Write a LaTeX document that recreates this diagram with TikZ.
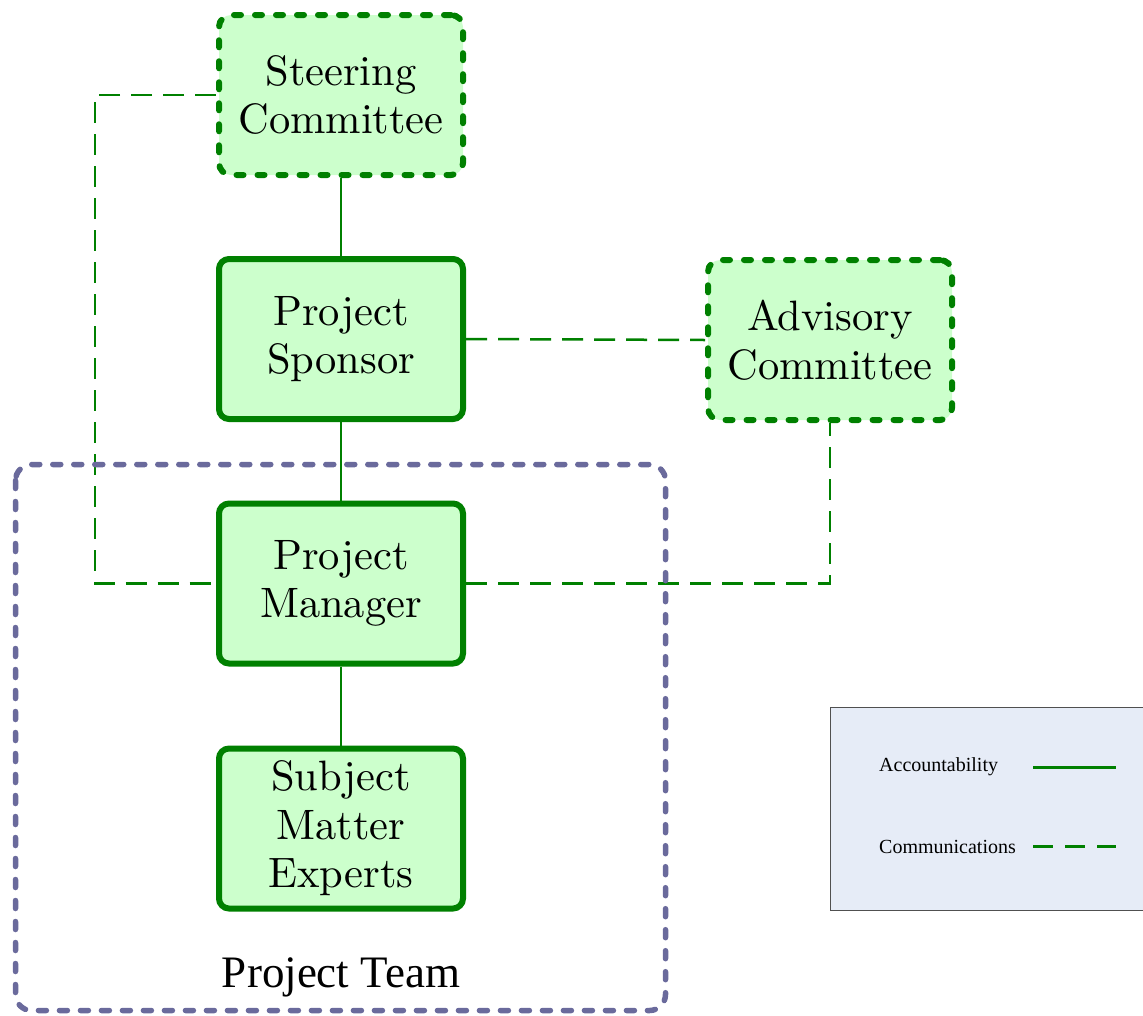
\documentclass[tikz,border=0pt]{standalone}
\usepackage{fontspec}
\newfontfamily\legfont{Liberation Serif}
\newfontfamily\boxfont{lmroman10-regular}[Extension=.otf]
\usetikzlibrary{backgrounds}
\definecolor{grn}{HTML}{008000}
\definecolor{lgrn}{HTML}{CCFFCC}
\definecolor{teamc}{HTML}{6A6A9C}
\definecolor{legfill}{HTML}{E6ECF7}
\definecolor{legdraw}{HTML}{505050}
\begin{document}
\begin{tikzpicture}[x=1pt,y=-1pt,
  box/.style={draw=grn, fill=lgrn, line width=6pt, rounded corners=10pt,
    minimum width=244pt, minimum height=160pt, inner sep=0pt, align=center,
    font=\boxfont\fontsize{42.5}{48.5}\selectfont},
  dbox/.style={box, line width=6pt, dash pattern=on 7pt off 14pt, line cap=round, rounded corners=12pt},
  acc/.style={draw=grn, line width=2.5pt},
  com/.style={draw=grn, line width=2.5pt, dash pattern=on 21pt off 11pt},
  legtext/.style={anchor=west, inner sep=0pt, font=\legfont\fontsize{20}{23}\selectfont}
]
\useasboundingbox (0,0) rectangle (1143,1015);

% project team
\draw[teamc, line width=5.5pt, dash pattern=on 8pt off 13pt, line cap=round, rounded corners=16pt]
  (15.5,464.5) rectangle (665.5,1010.5);
\node[font=\legfont\fontsize{45}{52}\selectfont, inner sep=0pt] (team) at (341,977) {Project Team};

% boxes
\node[dbox] (steer) at (341,95) {Steering\\Committee};
\node[box] (spon) at (341,339) {Project\\Sponsor};
\node[dbox] (adv) at (830,340) {Advisory\\Committee};
\node[box] (pm) at (341,583.5) {Project\\Manager};
\node[box] (sme) at (341,828.5) {Subject\\Matter\\Experts};

\begin{scope}[on background layer]
\draw[acc] (steer.south) -- (spon.north);
\draw[acc] (spon.south) -- (pm.north);
\draw[acc] (pm.south) -- (sme.north);
\draw[com] (steer.west) -- (95,95) -- (95,583.5) -- (pm.west);
\draw[com] (spon.east) -- (adv.west);
\draw[com] (pm.east) -- (830,583.5) -- (adv.south);
\end{scope}

% legend
\draw[fill=legfill, draw=legdraw, line width=1pt] (830.5,707.5) rectangle (1150,910.5);
\node[legtext] (lacc) at (879,767) {Accountability};
\node[legtext] (lcom) at (879,847) {Communications};
\coordinate (a1) at (1033,767);
\coordinate (a2) at (1116,767);
\coordinate (c1) at (1033,846);
\coordinate (c2) at (1116,846);
\draw[acc, line width=3pt] (a1) -- (a2);
\draw[com, line width=3pt, dash pattern=on 20pt off 12pt] (c1) -- (c2);
\end{tikzpicture}
\end{document}
